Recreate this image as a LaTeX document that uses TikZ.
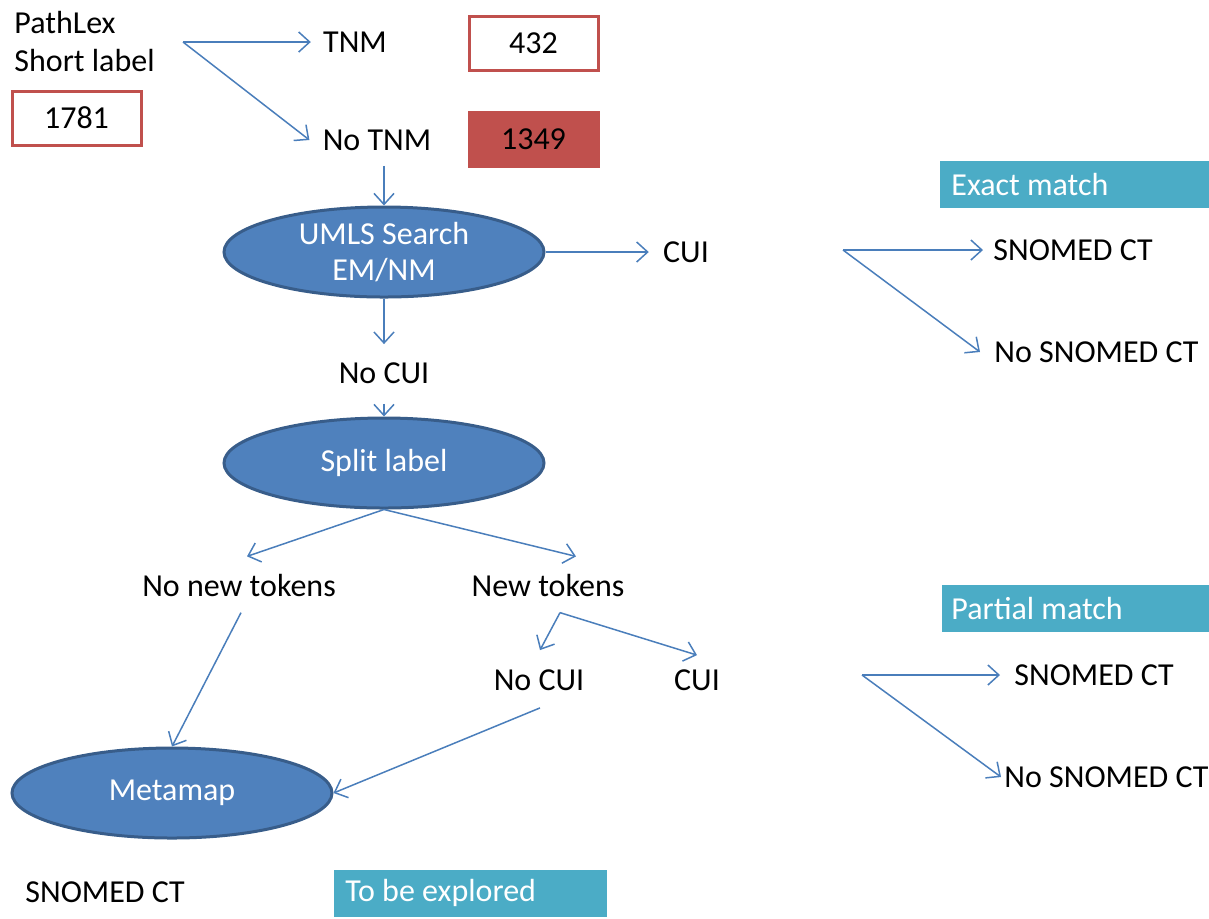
\documentclass[tikz,border=0pt]{standalone}
\usepackage{fontspec}
\setmainfont{Carlito}
\usetikzlibrary{arrows.meta,shapes.geometric,shadows,calc}
\definecolor{lncol}{HTML}{4A7EBB}
\definecolor{ellfill}{HTML}{4F81BD}
\definecolor{elldraw}{HTML}{385D8A}
\definecolor{redbox}{HTML}{C0504D}
\definecolor{tealbox}{HTML}{4BACC6}
\begin{document}
\begin{tikzpicture}[x=0.5pt,y=-0.5pt,
  font=\fontsize{16}{19}\selectfont,
  arr/.style={draw=lncol, line width=0.75pt, -{Straight Barb[length=5.5pt,width=10pt,line width=0.75pt]}},
  txt/.style={inner sep=0pt, text=black},
  ltxt/.style={inner sep=0pt, text=black, anchor=west},
  numbox/.style={draw=redbox, line width=1.5pt, minimum width=64.5pt, minimum height=27pt, inner sep=0pt, text=black},
  proc/.style={ellipse, fill=ellfill, draw=elldraw, line width=1.5pt, text=white, minimum width=160pt, minimum height=45pt, inner sep=0pt, align=center},
  tagbox/.style={fill=tealbox, draw=white, line width=1.5pt, inner sep=0pt, anchor=west,
    drop shadow={shadow xshift=0.8pt, shadow yshift=-0.8pt, opacity=0.3, fill=black!60}},
  tagtxt/.style={inner sep=0pt, text=white, anchor=west}]
\useasboundingbox (0,0) rectangle (1209,918);

% texts and boxes
\node[ltxt, align=left] (pl) at (14,41) {PathLex\\Short label};
\node[numbox] (n1781) at (76.5,118) {1781};
\node[txt] (tnm) at (355,42) {TNM};
\node[txt] (notnm) at (377,140) {No TNM};
\node[numbox] (n432) at (533.5,43) {432};
\node[numbox, fill=redbox] (n1349) at (533.5,139) {1349};

\node[proc] (umls) at (384,252) {UMLS Search\\[-1pt]EM/NM};
\node[txt] (cui1) at (686,252) {CUI};
\node[txt] (nocui1) at (384,373) {No CUI};
\node[proc] (split) at (384,463) {Split label};
\node[txt] (nonew) at (239,585) {No new tokens};
\node[txt] (newt) at (548,585) {New tokens};
\node[txt] (nocui2) at (539,680) {No CUI};
\node[txt] (cui2) at (697,680) {CUI};
\node[proc] (meta) at (172,793) {Metamap};

\node[tagbox, minimum width=138pt, minimum height=25pt] (exact) at (937,184) {};
\node[tagtxt] (exactt) at ($(exact.west)+(14,0)$) {Exact match};
\node[ltxt] (sn1) at (993,250) {SNOMED CT};
\node[ltxt] (nosn1) at (994,352) {No SNOMED CT};

\node[tagbox, minimum width=137pt, minimum height=25pt] (partial) at (939,608) {};
\node[tagtxt] (partialt) at ($(partial.west)+(12,0)$) {Partial match};
\node[ltxt] (sn2) at (1014,675) {SNOMED CT};
\node[ltxt] (nosn2) at (1004,777) {No SNOMED CT};

\node[ltxt] (sn3) at (25,892) {SNOMED CT};
\node[tagbox, minimum width=138pt, minimum height=25pt] (tbe) at (331,893) {};
\node[tagtxt] (tbet) at ($(tbe.west)+(14,0)$) {To be explored};

\coordinate (plout) at (183,42);
\coordinate (cuiE) at (843,250);
\coordinate (cuiP) at (862,675);

% connectors
\draw[arr] (plout) -- ($(tnm.west)+(-12,0)$);
\draw[arr] (plout) -- ($(notnm.west)+(-13,0)$);
\draw[arr] ($(umls.north |- notnm.south)+(0,15)$) -- (umls.north);
\draw[arr] (umls.east) -- ($(umls.east -| cui1.west)+(-14,0)$);
\draw[arr] (umls.south) -- ($(nocui1.north)+(0,-18)$);
\draw[arr] ($(nocui1.south)+(0,20)$) -- (split.north);
\draw[arr] (split.south) -- ($(nonew.north)+(8,-17)$);
\draw[arr] (split.south) -- ($(newt.north)+(28,-17)$);
\draw[arr] ($(nonew.south)+(2,16)$) -- (meta.north);
\draw[arr] ($(newt.south)+(12,16)$) -- ($(nocui2.north)+(1,-19)$);
\draw[arr] ($(newt.south)+(12,16)$) -- ($(cui2.north)+(0,-14)$);
\draw[arr] ($(nocui2.south)+(1,17)$) -- (meta.east);
\draw[arr] (cuiE) -- ($(sn1.west)+(-10,0)$);
\draw[arr] (cuiE) -- ($(nosn1.west)+(-14,0)$);
\draw[arr] (cuiP) -- ($(sn2.west)+(-14,0)$);
\draw[arr] (cuiP) -- ($(nosn2.west)+(-3,0)$);
\end{tikzpicture}
\end{document}
